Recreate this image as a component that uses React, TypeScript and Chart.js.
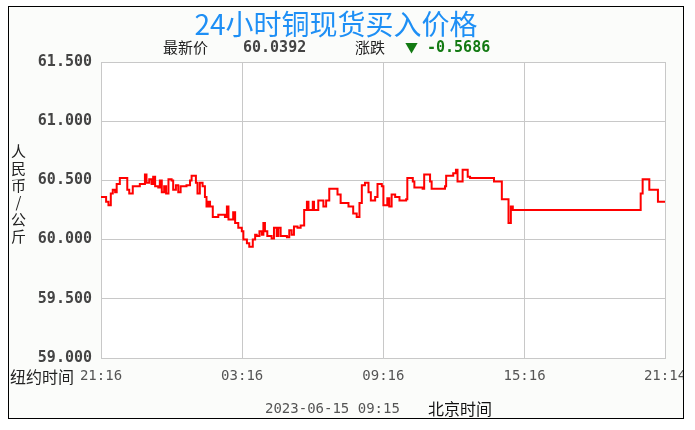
import React, { useEffect, useRef } from "react";
import { Chart, registerables } from "chart.js";

Chart.register(...registerables);

// minutes after 21:16 (New York time) and price (CNY/kg)
const times = [
  0, 13, 19, 25, 30, 36, 40, 48, 67, 72, 81, 99, 112, 116, 123, 129, 133, 138, 146, 150,
  155, 161, 166, 172, 180, 184, 191, 197, 203, 218, 227, 231, 242, 246, 252, 259, 265, 269, 274, 278,
  285, 299, 316, 321, 325, 337, 342, 350, 359, 363, 372, 378, 387, 393, 397, 404, 410, 414, 418, 424,
  435, 441, 448, 452, 458, 474, 480, 486, 492, 501, 509, 518, 525, 529, 540, 543, 554, 567, 574, 582,
  597, 603, 611, 622, 631, 643, 652, 659, 665, 673, 682, 688, 699, 705, 716, 720, 730, 735, 741, 750,
  761, 778, 781, 795, 799, 807, 820, 824, 835, 839, 843, 877, 880, 898, 905, 909, 920, 922, 933, 935,
  941, 1002, 1022, 1039, 1045, 1050, 1376, 1381, 1398, 1420, 1438,
];
const prices = [
  60.36, 60.32, 60.29, 60.39, 60.42, 60.40, 60.47, 60.52, 60.42, 60.39, 60.45, 60.47, 60.55, 60.48, 60.51, 60.47, 60.53, 60.45, 60.44, 60.50,
  60.40, 60.45, 60.39, 60.51, 60.50, 60.42, 60.46, 60.40, 60.45, 60.46, 60.50, 60.54, 60.48, 60.39, 60.48, 60.45, 60.36, 60.28, 60.32, 60.28,
  60.19, 60.21, 60.19, 60.28, 60.17, 60.23, 60.14, 60.10, 60.07, 60.00, 59.97, 59.94, 60.00, 60.04, 60.03, 60.07, 60.04, 60.14, 60.07, 60.03,
  60.01, 60.10, 60.03, 60.10, 60.03, 60.02, 60.08, 60.04, 60.11, 60.10, 60.12, 60.25, 60.32, 60.25, 60.32, 60.25, 60.33, 60.28, 60.33, 60.43,
  60.43, 60.38, 60.31, 60.31, 60.28, 60.22, 60.19, 60.31, 60.46, 60.48, 60.40, 60.33, 60.36, 60.47, 60.45, 60.29, 60.35, 60.28, 60.38, 60.36,
  60.33, 60.34, 60.52, 60.49, 60.44, 60.44, 60.43, 60.55, 60.55, 60.49, 60.43, 60.45, 60.54, 60.56, 60.59, 60.49, 60.49, 60.59, 60.59, 60.53,
  60.52, 60.49, 60.34, 60.14, 60.28, 60.25, 60.39, 60.51, 60.42, 60.32, 60.32,
];
const xTickValues = [0, 360, 720, 1080, 1438];
const xTickLabels = ["21:16", "03:16", "09:16", "15:16", "21:14"];
const yMin = 59.0;
const yMax = 61.5;
const yStep = 0.5;

const titleText = "24小时铜现货买入价格";
const latestLabel = "最新价";
const latestValue = "60.0392";
const changeLabel = "涨跌";
const changeValue = "-0.5686";
const yTitle = "人民币/公斤";
const xLeftLabel = "纽约时间";
const dateText = "2023-06-15 09:15";
const bjLabel = "北京时间";

const plotBg = {
  id: "plotBg",
  beforeDraw(chart: any) {
    const { ctx, chartArea } = chart;
    ctx.save();
    ctx.fillStyle = "#ffffff";
    ctx.fillRect(chartArea.left, chartArea.top, chartArea.right - chartArea.left, chartArea.bottom - chartArea.top);
    ctx.restore();
  },
};

export default function App() {
  const ref = useRef<HTMLCanvasElement>(null);
  useEffect(() => {
    if (!ref.current) return;
    const data = times.map((t, i) => ({ x: t, y: prices[i] }));
    const chart = new Chart(ref.current, {
      type: "line",
      data: {
        datasets: [
          {
            data,
            borderColor: "#ff0000",
            borderWidth: 2,
            pointRadius: 0,
            stepped: true,
            fill: false,
          },
        ],
      },
      options: {
        animation: false,
        responsive: false,
        layout: { padding: { left: 0, right: 18, top: 55, bottom: 0 } },
        plugins: { legend: { display: false }, tooltip: { enabled: false } },
        scales: {
          x: {
            type: "linear",
            min: 0,
            max: 1438,
            afterBuildTicks: (scale: any) => {
              scale.ticks = xTickValues.map((v) => ({ value: v }));
            },
            afterFit: (scale: any) => {
              scale.height = 60;
              scale.paddingLeft = 0;
              scale.paddingRight = 0;
            },
            grid: { color: "#c8c8c8", lineWidth: 1, drawTicks: false },
            border: { color: "#c8c8c8" },
            ticks: {
              padding: 10,
              maxRotation: 0,
              autoSkip: false,
              color: "#555555",
              font: { family: "'DejaVu Sans Mono'", size: 14 },
              callback: (_v: any, i: number) => xTickLabels[i],
            },
          },
          y: {
            min: yMin,
            max: yMax,
            afterFit: (scale: any) => {
              scale.width = 92;
            },
            grid: { color: "#c8c8c8", lineWidth: 1, drawTicks: false },
            border: { color: "#c8c8c8" },
            ticks: {
              stepSize: yStep,
              padding: 9,
              color: "#444444",
              font: { family: "'DejaVu Sans Mono'", size: 15, weight: "bold" },
              callback: (v: any) => Number(v).toFixed(3),
            },
          },
        },
      },
      plugins: [plotBg],
    } as any);
    return () => chart.destroy();
  }, []);

  const abs = (s: React.CSSProperties): React.CSSProperties => ({ position: "absolute", whiteSpace: "nowrap", ...s });
  const cjk = "'Noto Sans CJK SC', sans-serif";
  const mono = "'DejaVu Sans Mono', monospace";

  return (
    <div
      style={{
        position: "absolute",
        left: 8,
        top: 6,
        width: 674,
        height: 411,
        border: "1px solid #000",
        background: "#fbfcfa",
        overflow: "hidden",
      }}
    >
      <canvas ref={ref} width={674} height={411} style={{ position: "absolute", left: 0, top: 0 }} />
      <div style={abs({ left: 127, width: 400, top: 0, textAlign: "center", fontFamily: cjk, fontSize: 28, lineHeight: "32px", color: "#1e8ff5" })}>
        {titleText}
      </div>
      <div style={abs({ left: 154, top: 31, fontFamily: cjk, fontSize: 15, lineHeight: "18px", color: "#222" })}>{latestLabel}</div>
      <div style={abs({ left: 234, top: 31, fontFamily: mono, fontSize: 15, lineHeight: "18px", fontWeight: "bold", color: "#444" })}>{latestValue}</div>
      <div style={abs({ left: 346, top: 31, fontFamily: cjk, fontSize: 15, lineHeight: "18px", color: "#222" })}>{changeLabel}</div>
      <div style={abs({ left: 396, top: 31, fontFamily: cjk, fontSize: 13, lineHeight: "18px", color: "#137a13" })}>▼</div>
      <div style={abs({ left: 418, top: 31, fontFamily: mono, fontSize: 15, lineHeight: "18px", fontWeight: "bold", color: "#137a13" })}>{changeValue}</div>
      <div
        style={abs({
          left: 0,
          top: 137,
          width: 18,
          writingMode: "vertical-rl",
          textOrientation: "upright",
          fontFamily: cjk,
          fontSize: 15,
          lineHeight: "18px",
          letterSpacing: 2,
          color: "#222",
        })}
      >
        {yTitle}
      </div>
      <div style={abs({ left: 1, top: 360, fontFamily: cjk, fontSize: 16, lineHeight: "18px", color: "#222" })}>{xLeftLabel}</div>
      <div style={abs({ left: 256, top: 392, fontFamily: mono, fontSize: 14, lineHeight: "18px", color: "#555" })}>{dateText}</div>
      <div style={abs({ left: 419, top: 392, fontFamily: cjk, fontSize: 16, lineHeight: "18px", color: "#111" })}>{bjLabel}</div>
    </div>
  );
}
